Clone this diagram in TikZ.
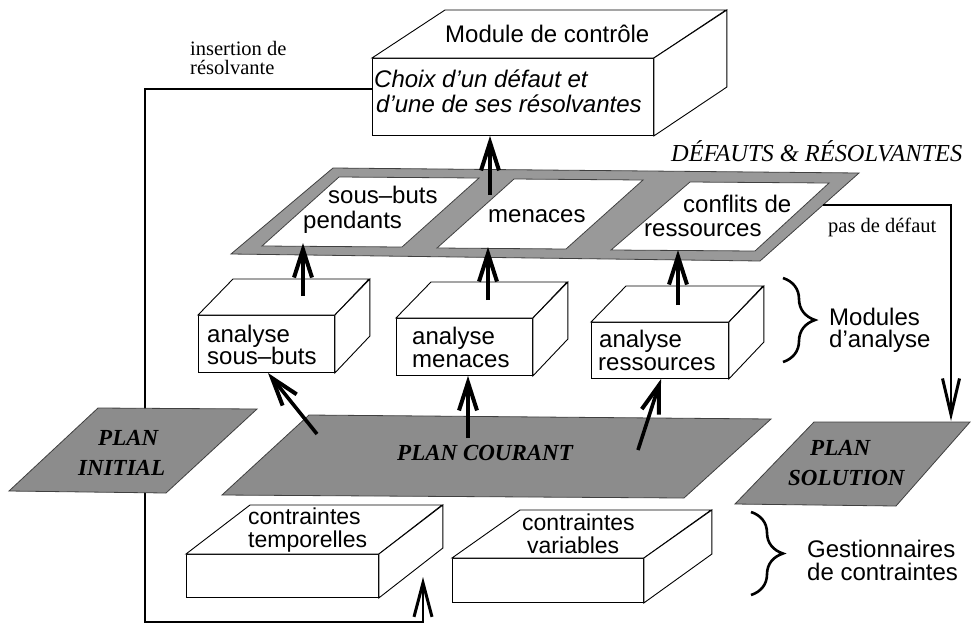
\documentclass[tikz,border=0pt]{standalone}
\usepackage{fontspec}
\setmainfont{Liberation Serif}
\setsansfont{Liberation Sans}
\usetikzlibrary{arrows.meta,decorations.pathreplacing,calc}
\definecolor{plangray}{rgb}{0.55,0.55,0.55}
\definecolor{framegray}{rgb}{0.6,0.6,0.6}
\tikzset{
  boxline/.style={line width=0.9pt, draw=black},
  face/.style={boxline, fill=white, rectangle, inner sep=0pt},
  planfill/.style={fill=plangray, draw=black!75, line width=0.8pt},
  framefill/.style={fill=framegray, draw=black!75, line width=0.8pt},
  holefill/.style={fill=white, draw=black!75, line width=0.8pt},
  sanslbl/.style={font=\sffamily\fontsize{24}{28}\selectfont, inner sep=0pt, anchor=base west},
  smsanslbl/.style={font=\sffamily\fontsize{23}{27}\selectfont, inner sep=0pt, anchor=base west},
  itsanslbl/.style={font=\sffamily\itshape\fontsize{24}{28}\selectfont, inner sep=0pt, anchor=base west},
  seriflbl/.style={font=\rmfamily\fontsize{20.5}{24}\selectfont, inner sep=0pt, anchor=base west},
  itseriflbl/.style={font=\rmfamily\itshape\fontsize{24.4}{28}\selectfont, inner sep=0pt, anchor=base west},
  planlbl/.style={font=\rmfamily\bfseries\itshape\fontsize{23}{27}\selectfont, inner sep=0pt, anchor=base west},
  bigarrow/.style={line width=3.6pt, -{Straight Barb[length=28pt,width=18pt,line width=4pt]}},
  flowline/.style={line width=2.6pt},
  downarrow/.style={line width=2.8pt, -{Straight Barb[length=36pt,width=17pt,line width=3pt]}},
  bracestyle/.style={decorate, decoration={brace, amplitude=32pt}, line width=2.6pt},
}
\begin{document}
\begin{tikzpicture}[x=1pt,y=-1pt]
\useasboundingbox (0,0) rectangle (971,630);

% ---------- insertion de résolvante (behind everything) ----------
\coordinate (ins-start) at (372,89);
\coordinate (ins-bl) at (145,622);
\coordinate (ins-end) at (423,577);
\draw[flowline, -{Straight Barb[length=34pt,width=18pt,line width=3pt]}] (ins-start) -| (ins-bl) -| (ins-end);

% ---------- plans ----------
\draw[planfill] (98,408) -- (257,409) -- (166,493) -- (9,491) -- cycle;
\draw[planfill] (309,415) -- (771,419) -- (684,498) -- (222,495) -- cycle;
\draw[planfill] (814,422) -- (970,422) -- (896,506) -- (735,504) -- cycle;

% ---------- défauts & résolvantes frame ----------
\draw[framefill] (333,168) -- (859,173) -- (760,261) -- (231,254) -- cycle;
\draw[holefill] (339,177) -- (479,178) -- (402,247) -- (262,246) -- cycle;
\draw[holefill] (514,179) -- (643,180) -- (566,249) -- (437,248) -- cycle;
\draw[holefill] (690,182) -- (829,183) -- (755,251) -- (611,250) -- cycle;

% ---------- module de contrôle ----------
\node[face, minimum width=281pt, minimum height=77pt, anchor=north west] (ctl) at (372,58) {};
\draw[boxline, fill=white] (ctl.north west) -- ++(73,-48) -- ++(281,0) -- (ctl.north east) -- cycle;
\draw[boxline, fill=white] (ctl.north east) -- ++(73,-48) -- ++(0,77) -- (ctl.south east) -- cycle;

% ---------- modules d'analyse ----------
\node[face, minimum width=136pt, minimum height=57pt, anchor=north west] (as) at (198,315) {};
\draw[boxline, fill=white] (as.north west) -- ++(35,-36) -- ++(136,0) -- (as.north east) -- cycle;
\draw[boxline, fill=white] (as.north east) -- ++(35,-36) -- ++(0,57) -- (as.south east) -- cycle;

\node[face, minimum width=136pt, minimum height=57pt, anchor=north west] (am) at (396,318) {};
\draw[boxline, fill=white] (am.north west) -- ++(35,-36) -- ++(136,0) -- (am.north east) -- cycle;
\draw[boxline, fill=white] (am.north east) -- ++(35,-36) -- ++(0,57) -- (am.south east) -- cycle;

\node[face, minimum width=137pt, minimum height=56pt, anchor=north west] (ar) at (591,322) {};
\draw[boxline, fill=white] (ar.north west) -- ++(35,-36) -- ++(137,0) -- (ar.north east) -- cycle;
\draw[boxline, fill=white] (ar.north east) -- ++(35,-36) -- ++(0,56) -- (ar.south east) -- cycle;

% ---------- gestionnaires de contraintes ----------
\node[face, minimum width=192pt, minimum height=43pt, anchor=north west] (ct) at (186,554) {};
\draw[boxline, fill=white] (ct.north west) -- ++(64,-49) -- ++(192,0) -- (ct.north east) -- cycle;
\draw[boxline, fill=white] (ct.north east) -- ++(64,-49) -- ++(0,43) -- (ct.south east) -- cycle;

\node[face, minimum width=191pt, minimum height=44pt, anchor=north west] (cv) at (452,558) {};
\draw[boxline, fill=white] (cv.north west) -- ++(68,-48) -- ++(191,0) -- (cv.north east) -- cycle;
\draw[boxline, fill=white] (cv.north east) -- ++(68,-48) -- ++(0,44) -- (cv.south east) -- cycle;

% ---------- arrows ----------
\coordinate (men-src) at (490,195);
\draw[bigarrow] (men-src) -- (men-src |- ctl.south);

\coordinate (as-src) at (303,296);
\coordinate (as-dst) at (303,243);
\draw[bigarrow] (as-src) -- (as-dst);
\coordinate (am-src) at (488,300);
\coordinate (am-dst) at (488,247);
\draw[bigarrow] (am-src) -- (am-dst);
\coordinate (ar-src) at (678,305);
\coordinate (ar-dst) at (678,250);
\draw[bigarrow] (ar-src) -- (ar-dst);

\coordinate (pc-as) at (317,434);
\coordinate (as-in) at (268,373);
\draw[bigarrow] (pc-as) -- (as-in);
\coordinate (pc-am) at (468,438);
\draw[bigarrow] (pc-am) -- (pc-am |- am.south);
\coordinate (pc-ar) at (638,450);
\coordinate (ar-in) at (661,379);
\draw[bigarrow] (pc-ar) -- (ar-in);

\coordinate (pd-start) at (823,205);
\coordinate (pd-corner) at (951,205);
\coordinate (ps-top) at (951,421);
\draw[downarrow] (pd-start) -- (pd-corner) -- (ps-top);

% ---------- braces ----------
\draw[bracestyle] (783,278) -- (783,362);
\draw[bracestyle] (751,512) -- (751,595);

% ---------- texts ----------
\node[seriflbl] (t-ins1) at (190,55) {insertion de};
\node[seriflbl] (t-ins2) at (190,74) {résolvante};

\node[sanslbl] (t-ctl) at (445,42) {Module de contrôle};
\node[itsanslbl] (t-ch1) at (374,87) {Choix d'un défaut et};
\node[itsanslbl] (t-ch2) at (376,112) {d'une de ses résolvantes};

\node[itseriflbl] (t-def) at (671,161) {DÉFAUTS \& RÉSOLVANTES};

\node[sanslbl] (t-sb1) at (328,203) {sous–buts};
\node[sanslbl] (t-sb2) at (303,228) {pendants};
\node[sanslbl] (t-men) at (488,222) {menaces};
\node[sanslbl] (t-cf1) at (683,212) {conflits de};
\node[sanslbl] (t-cf2) at (644,236) {ressources};

\node[seriflbl] (t-pdd) at (828,232) {pas de défaut};

\node[sanslbl] (t-as1) at (207,342) {analyse};
\node[sanslbl] (t-as2) at (207,364) {sous–buts};
\node[sanslbl] (t-am1) at (412,344) {analyse};
\node[sanslbl] (t-am2) at (412,367) {menaces};
\node[sanslbl] (t-ar1) at (599,347) {analyse};
\node[sanslbl] (t-ar2) at (598,370) {ressources};

\node[sanslbl] (t-mod1) at (829,325) {Modules};
\node[sanslbl] (t-mod2) at (829,347) {d'analyse};

\node[planlbl] (t-pi1) at (98,445) {PLAN};
\node[planlbl] (t-pi2) at (78,475) {INITIAL};
\node[planlbl] (t-pc) at (397,460) {PLAN COURANT};
\node[planlbl] (t-ps1) at (810,455) {PLAN};
\node[planlbl] (t-ps2) at (788,485) {SOLUTION};

\node[smsanslbl] (t-ct1) at (248,524) {contraintes};
\node[smsanslbl] (t-ct2) at (248,547) {temporelles};
\node[smsanslbl] (t-cv1) at (522,530) {contraintes};
\node[smsanslbl] (t-cv2) at (527,553) {variables};

\node[sanslbl] (t-g1) at (807,557) {Gestionnaires};
\node[sanslbl] (t-g2) at (807,580) {de contraintes};
\end{tikzpicture}
\end{document}
